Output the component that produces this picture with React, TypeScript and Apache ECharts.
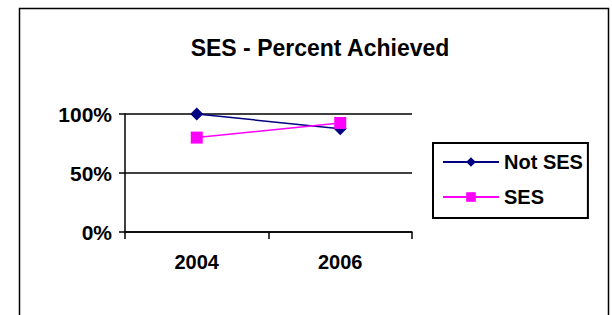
import React, { useEffect, useRef } from "react";
import * as echarts from "echarts";

const categories = ["2004", "2006"];
const notSes = [1.0, 0.875];
const ses = [0.8, 0.924];
const yTicks = [0, 0.5, 1];

export default function App() {
  const ref = useRef<HTMLDivElement>(null);
  useEffect(() => {
    const chart = echarts.init(ref.current!, null, { renderer: "svg" });
    const font = "'Liberation Sans', Arial, sans-serif";
    chart.setOption({
      animation: false,
      backgroundColor: "#ffffff",
      title: {
        text: "SES - Percent Achieved",
        left: 315,
        textAlign: "center",
        top: 31,
        textStyle: { fontFamily: font, fontWeight: "bold", fontSize: 23, color: "#000" },
      },
      graphic: [
        {
          type: "rect",
          shape: { x: 19.5, y: 8.5, width: 589, height: 330 },
          style: { fill: "none", stroke: "#000", lineWidth: 1.5 },
          silent: true,
        },
      ],
      grid: { left: 125, right: 200, top: 114, bottom: 83 },
      legend: {
        orient: "vertical",
        left: 433,
        top: 143,
        borderColor: "#000",
        borderWidth: 2,
        padding: [9, 5, 11, 9],
        itemWidth: 56,
        itemHeight: 12,
        itemGap: 15,
        textStyle: { fontFamily: font, fontWeight: "bold", fontSize: 20, color: "#000" },
        data: ["Not SES", "SES"],
      },
      xAxis: {
        type: "category",
        data: categories,
        boundaryGap: true,
        axisLine: { lineStyle: { color: "#000", width: 1.5 } },
        axisTick: { show: true, length: 7, lineStyle: { color: "#000", width: 1.5 } },
        axisLabel: { fontFamily: font, fontWeight: "bold", fontSize: 20, color: "#000", margin: 20 },
      },
      yAxis: {
        type: "value",
        min: 0,
        max: 1,
        interval: 0.5,
        axisLine: { show: true, lineStyle: { color: "#000", width: 1.5 } },
        axisTick: { show: true, length: 6, lineStyle: { color: "#000", width: 1.5 } },
        splitLine: { show: true, lineStyle: { color: "#000", width: 1.5 } },
        axisLabel: {
          fontFamily: font,
          fontWeight: "bold",
          fontSize: 21,
          color: "#000",
          margin: 13,
          formatter: (v: number) => (yTicks.includes(v) ? Math.round(v * 100) + "%" : ""),
        },
      },
      series: [
        {
          name: "Not SES",
          type: "line",
          data: notSes,
          color: "#000080",
          symbol: "diamond",
          symbolSize: 13,
          lineStyle: { width: 1.5, color: "#000080" },
          itemStyle: { color: "#000080" },
        },
        {
          name: "SES",
          type: "line",
          data: ses,
          color: "#FF00FF",
          symbol: "rect",
          symbolSize: 12,
          lineStyle: { width: 1.5, color: "#FF00FF" },
          itemStyle: { color: "#FF00FF" },
        },
      ],
    });
    return () => chart.dispose();
  }, []);
  return <div ref={ref} style={{ width: 612, height: 315, position: "absolute", left: 0, top: 0 }} />;
}
